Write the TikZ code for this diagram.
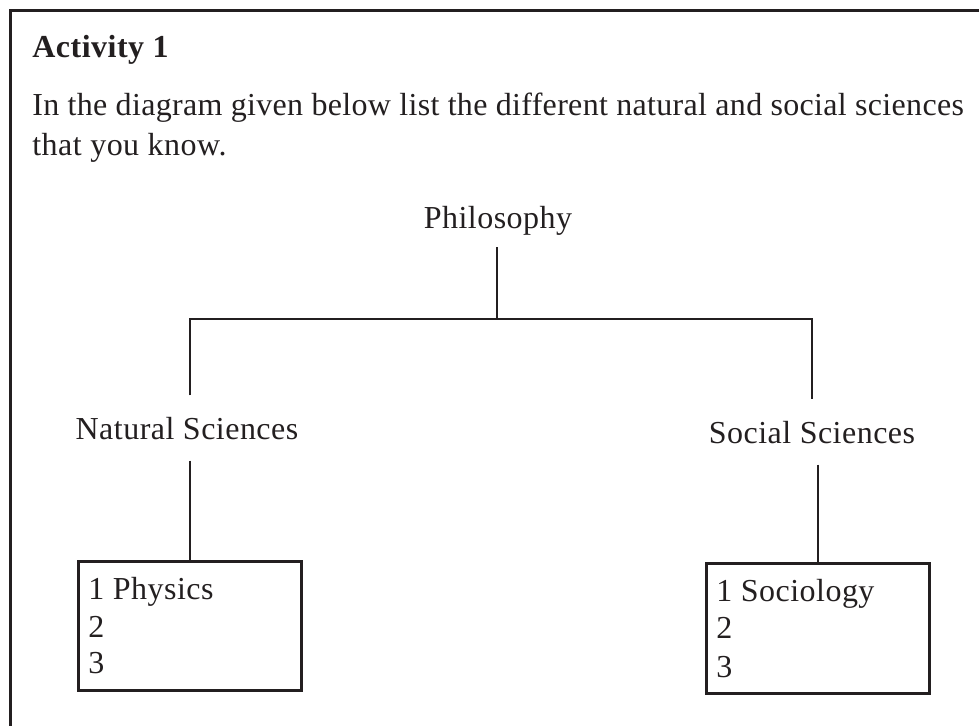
\documentclass[tikz,border=0pt]{standalone}
\usepackage{fontspec}
\setmainfont{Liberation Serif}[LetterSpace=1.5]
\definecolor{ink}{HTML}{231F20}
\begin{document}
\begin{tikzpicture}[x=0.5pt,y=-0.5pt,
  every node/.style={text=ink,font=\fontsize{16}{19}\selectfont},
  lbl/.style={anchor=base,inner xsep=0pt,inner ysep=10.5pt},
  txt/.style={anchor=base west,inner sep=0pt},
  conn/.style={draw=ink,line width=1.1pt},
  listbox/.style={draw=ink,line width=1.3pt,anchor=north west,inner sep=0pt},
  frame/.style={draw=ink,line width=1.5pt}]
\useasboundingbox (0,0) rectangle (979,725);
\draw[frame] (10,740) -- (10,10) -- (995,10);
\node[txt,font=\fontsize{16}{19}\selectfont\bfseries] (title) at (32,57) {Activity 1};
\node[txt,font=\fontsize{16}{19}\selectfont\addfontfeature{LetterSpace=1.0}] (para1) at (32,115) {In the diagram given below list the different natural and social sciences};
\node[txt] (para2) at (32,155) {that you know.};
\node[lbl,inner ysep=6pt] (phil) at (498,228) {Philosophy};
\node[lbl] (nat) at (187,439) {Natural Sciences};
\node[lbl] (soc) at (812,443) {Social Sciences};
\coordinate (j) at (497,319);
\node[listbox,minimum width=111.5pt,minimum height=64.5pt] (lbox) at (77,560) {};
\node[listbox,minimum width=111.5pt,minimum height=65pt] (rbox) at (705,562) {};
\node[txt] (l1) at (88,599) {1 Physics};
\node[txt] (l2) at (88,637) {2};
\node[txt] (l3) at (88,673) {3};
\node[txt] (r1) at (716,601) {1 Sociology};
\node[txt] (r2) at (716,638) {2};
\node[txt] (r3) at (716,677) {3};
\draw[conn] (phil.south -| j) -- (j);
\draw[conn] (nat.north -| lbox.north) -- (lbox.north |- j) -- (soc.north |- j) -- (soc.north);
\draw[conn] (nat.south -| lbox.north) -- (lbox.north);
\draw[conn] (soc.south -| rbox.north) -- (rbox.north);
\end{tikzpicture}
\end{document}
